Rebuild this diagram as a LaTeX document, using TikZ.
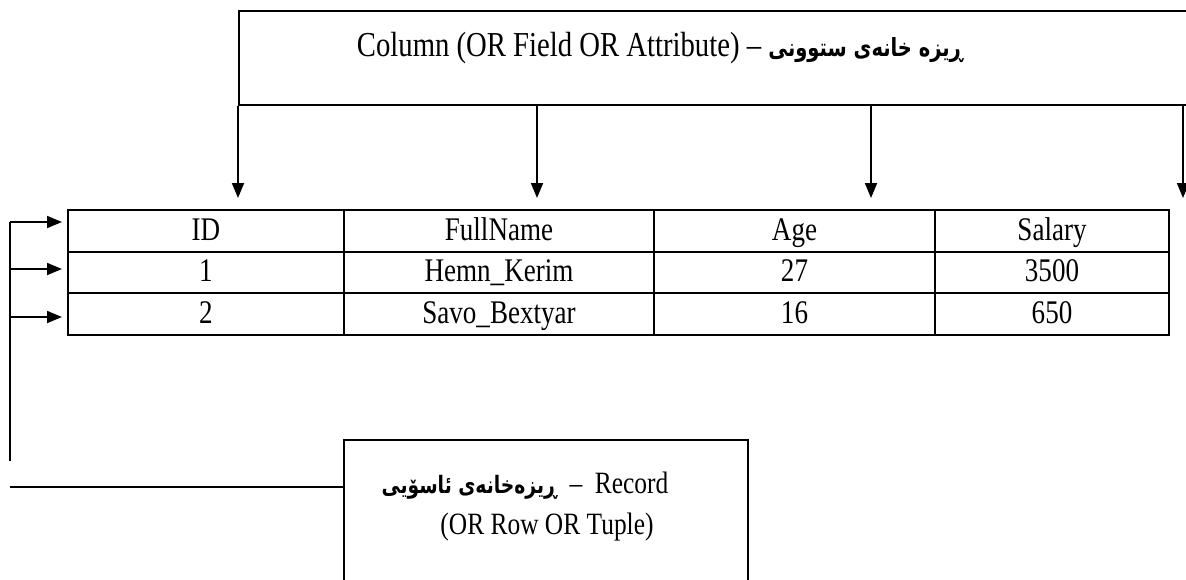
\documentclass[tikz,border=0pt]{standalone}
\usepackage{fontspec}
\setmainfont{Liberation Serif}[FakeStretch=0.82]
\newfontfamily\kurdfont[Script=Arabic, FakeStretch=0.78]{DejaVu Sans}
\TeXXeTstate=1
\usetikzlibrary{arrows.meta, positioning}

\tikzset{
  cell/.style={draw, line width=1pt, anchor=north west, inner sep=0pt,
    minimum height=20.75pt, text height=11.5pt, text depth=2.1pt,
    font=\fontsize{16.5}{19}\selectfont},
  lbox/.style={draw, line width=1pt, anchor=north west, inner sep=0pt},
  lbl/.style={align=center, inner sep=0pt},
  link/.style={line width=0.9pt},
}
\newcommand{\kurd}[2][13]{{\kurdfont\bfseries\fontsize{#1}{15}\selectfont\beginR #2\endR}}

\begin{document}
\begin{tikzpicture}[x=0.5pt, y=-0.5pt, >={Triangle[length=7.5pt, width=6pt]}]
  \useasboundingbox (0,0) rectangle (1186,579);

  % column edges of the table (pixels)
  \def\cA{67}  \def\cB{343}  \def\cC{653}  \def\cD{934}

  % Top label box (runs off the right edge)
  \node[lbox, minimum width=490pt, minimum height=47pt] (colbox) at (238,10) {};
  \node[lbl, font=\fontsize{17.5}{21}\selectfont] (coltxt) at (660,48)
    {Column (OR Field OR Attribute) – \kurd[12.5]{ڕیزە خانەی ستوونی}};

  % Table
  \foreach \row/\y/\a/\b/\c/\d in {h/209/ID/FullName/Age/Salary,
      one/250.5/1/Hemn\_Kerim/27/3500, two/292/2/Savo\_Bextyar/16/650} {
    \node[cell, minimum width=138pt]   (\row-id)   at (\cA,\y) {\a};
    \node[cell, minimum width=155pt]   (\row-name) at (\cB,\y) {\b};
    \node[cell, minimum width=140.5pt] (\row-age)  at (\cC,\y) {\c};
    \node[cell, minimum width=117pt]   (\row-sal)  at (\cD,\y) {\d};
  }

  % Column arrows
  \coordinate (aA) at (238,198);
  \coordinate (aB) at (537,198);
  \coordinate (aC) at (871,198);
  \coordinate (aD) at (1183,198);
  \foreach \p in {aA, aB, aC, aD}
    \draw[link, ->] (\p |- colbox.south) -- (\p);

  % Record bracket on the left
  \coordinate (rA) at (10,222);
  \coordinate (rB) at (10,269);
  \coordinate (rC) at (10,317);
  \coordinate (rEnd) at (10,461);
  \draw[link] (rA) -- (rEnd);
  \foreach \p in {rA, rB, rC}
    \draw[link, ->] (\p) -- ([xshift=-2.5pt]\p -| h-id.west);

  % Record label box (runs off the bottom edge)
  \node[lbox, minimum width=202pt, minimum height=80pt] (recbox) at (343,439) {};
  \node[lbl, font=\fontsize{15.5}{20.5}\selectfont] (rectxt) at (547,507)
    {\kurd[12]{ڕیزەخانەی ئاسۆیی}\ \ –\ \ Record\hspace*{22pt}\\(OR Row OR Tuple)};
  \coordinate (recL) at (10,487);
  \draw[link] (recL) -- (recL -| recbox.west);
\end{tikzpicture}
\end{document}
